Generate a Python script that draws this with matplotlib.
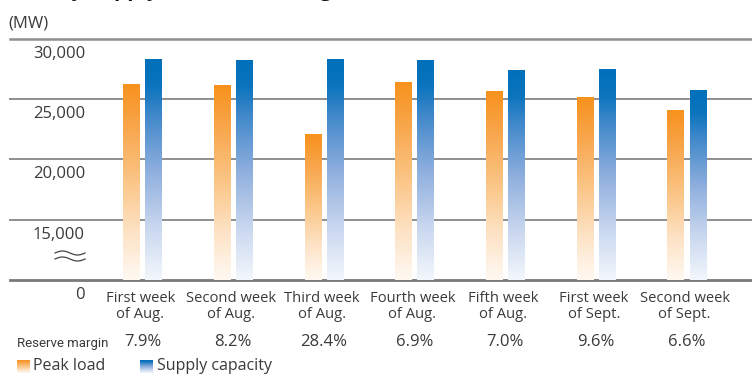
import numpy as np
import matplotlib
matplotlib.use("Agg")
import matplotlib.pyplot as plt
from matplotlib.colors import LinearSegmentedColormap
from matplotlib.lines import Line2D

# ---- data ----
categories = ["First week\nof Aug.", "Second week\nof Aug.", "Third week\nof Aug.",
              "Fourth week\nof Aug.", "Fifth week\nof Aug.", "First week\nof Sept.",
              "Second week\nof Sept."]
peak_load = [26230, 26140, 22080, 26390, 25640, 25150, 24070]
supply_capacity = [28300, 28220, 28300, 28220, 27390, 27470, 25730]
reserve_margin = ["7.9%", "8.2%", "28.4%", "6.9%", "7.0%", "9.6%", "6.6%"]
ytick_values = [15000, 20000, 25000, 30000]
ytick_labels = ["15,000", "20,000", "25,000", "30,000"]

plt.rcParams['font.family'] = ['Open Sans', 'DejaVu Sans']
TXT = '#3a3a3a'
W, H = 752, 374
fig = plt.figure(figsize=(W / 100, H / 100), dpi=100)

ax_left, ax_right, ax_top, ax_bot = 10, 752, 38.5, 280
ax = fig.add_axes([ax_left / W, 1 - ax_bot / H, (ax_right - ax_left) / W, (ax_bot - ax_top) / H])

orange_cmap = LinearSegmentedColormap.from_list('o', [
    (0.0, '#FFF9F2'), (0.25, '#FDE2C4'), (0.5, '#FBC688'), (0.8, '#F8A448'), (1.0, '#F7921D')])
blue_cmap = LinearSegmentedColormap.from_list('b', [
    (0.0, '#F3F7FC'), (0.25, '#C6D5EE'), (0.5, '#8DAEDD'), (0.75, '#3F88CA'), (0.88, '#0B74BD'), (1.0, '#0070BA')])

x = np.arange(len(categories))
bw = 0.18
off = 0.122
YMIN, YMAX = 10000, 30000

grad = np.linspace(0, 1, 256).reshape(-1, 1)

def gradient_bars(xpos, vals, cmap):
    bars = ax.bar(xpos, np.array(vals) - YMIN, bottom=YMIN, width=bw, color='none', edgecolor='none', zorder=3)
    for r in bars:
        x0, y0 = r.get_x(), r.get_y()
        w, h = r.get_width(), r.get_height()
        im = ax.imshow(grad, cmap=cmap, extent=[x0, x0 + w, y0, y0 + h], origin='lower',
                       aspect='auto', zorder=3, interpolation='bilinear')
        im.set_clip_path(r)

gradient_bars(x - off, peak_load, orange_cmap)
gradient_bars(x + off, supply_capacity, blue_cmap)

ax.set_xlim(-1.46, 6.72)
ax.set_ylim(YMIN, YMAX)

for v in ytick_values:
    ax.axhline(v, color='#8f8f8f', lw=1.4 if v < 30000 else 1.8, zorder=1, clip_on=False)

for s in ['top', 'right', 'left']:
    ax.spines[s].set_visible(False)
ax.spines['bottom'].set_color('#7a7a7a')
ax.spines['bottom'].set_linewidth(2)
ax.set_xticks([])
ax.set_yticks([])
ax.patch.set_visible(False)

# y labels (below gridlines)
for v, lab in zip(ytick_values, ytick_labels):
    ax.annotate(lab, xy=(0, v), xycoords=('axes fraction', 'data'), xytext=(75, -19),
                textcoords='offset pixels', ha='right', va='baseline', fontsize=12, color=TXT)
ax.annotate("0", xy=(0, YMIN), xycoords=('axes fraction', 'data'), xytext=(75, -19),
            textcoords='offset pixels', ha='right', va='baseline', fontsize=12, color=TXT)

# category labels (two lines each)
for xi, lab in zip(x, categories):
    for line, dy in zip(lab.split("\n"), (-22.5, -38)):
        ax.annotate(line, xy=(xi, YMIN), xycoords='data', xytext=(-2, dy), textcoords='offset pixels',
                    ha='center', va='baseline', fontsize=10.6, color=TXT)

# reserve margin row
fig.text(17 / W, 1 - 346.5 / H, "Reserve margin", ha='left', va='baseline', fontsize=9.5,
         color=TXT, family=['Roboto', 'DejaVu Sans'])
for xi, rm in zip(x, reserve_margin):
    ax.annotate(rm, xy=(xi, YMIN), xycoords='data', xytext=(0, -66.5), textcoords='offset pixels',
                ha='center', va='baseline', fontsize=12, color=TXT)

# axis unit & title
fig.text(8 / W, 1 - 27.5 / H, "(MW)", ha='left', va='baseline', fontsize=12, color=TXT)
fig.text(8 / W, 1 + 4 / H, "Weekly Supply and Demand Figures", ha='left', va='baseline',
         fontsize=15, fontweight='bold', color='#111111')

# break symbol
xs = np.linspace(55, 85, 60)
for yc in (253, 259):
    ys = yc - 2.0 * np.sin((xs - 55) / 30 * 2 * np.pi)
    fig.add_artist(Line2D(xs / W, 1 - ys / H, color='#444444', lw=0.9))

# legend
def swatch(px, cmap):
    sax = fig.add_axes([px / W, 1 - 373 / H, 13 / W, 13 / H])
    sax.imshow(grad, cmap=cmap, origin='lower', aspect='auto', extent=[0, 1, 0, 1])
    sax.axis('off')

swatch(17, orange_cmap)
fig.text(33 / W, 1 - 369.5 / H, "Peak load", ha='left', va='baseline', fontsize=11.5, color=TXT)
swatch(140, blue_cmap)
fig.text(157 / W, 1 - 369.5 / H, "Supply capacity", ha='left', va='baseline', fontsize=11.5, color=TXT)

fig.savefig("out.png", dpi=100)
